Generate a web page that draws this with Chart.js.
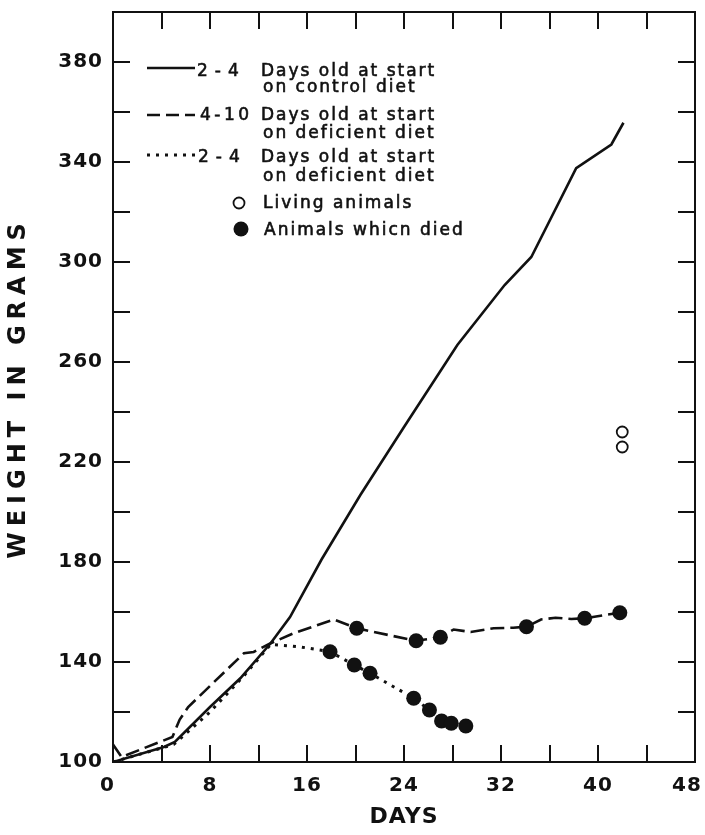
<!DOCTYPE html>
<html>
<head>
<meta charset="utf-8">
<script src="https://cdn.jsdelivr.net/npm/chart.js@4.4.1/dist/chart.umd.min.js"></script>
<style>
  html, body { margin: 0; padding: 0; background: #fff; }
</style>
</head>
<body>
<canvas id="weightChart" width="705" height="835"></canvas>
<script>
// Valores (dias / gramos)
const controlDays = [0, 4.2, 5.1, 8, 10.5, 13, 14.6, 17.2, 20.4, 24, 28.4, 32.3, 34.5, 38.2, 41.1, 42.1];
const controlWeight = [100, 106, 108, 122, 133.5, 147.5, 158, 181, 206.8, 234, 266.8, 290.8, 302, 337.5, 347, 355.7];

const olderDays = [0, 0.7, 4.9, 5.5, 6.2, 10.8, 11.6, 13, 14.9, 18.2, 20.1, 21.5, 25, 27, 28.1, 29.5, 31.4, 33, 34.1, 35.3, 36.5, 37.8, 38.9, 41.8];
const olderWeight = [107, 102, 110, 117, 122, 143.5, 144, 147.5, 151.5, 157, 153.5, 152, 148.5, 149.9, 153, 152, 153.5, 153.7, 154.1, 157, 157.7, 157.2, 157.5, 159.7];

const youngDays = [0, 5, 8, 10.8, 13, 15.5, 17.9, 19.9, 21.2, 24.8, 26.1, 27.1, 27.9, 29.1];
const youngWeight = [100, 107, 120, 134.5, 147, 146, 144.1, 138.8, 135.5, 125.5, 120.8, 116.4, 115.5, 114.4];

// animales que murieron
const olderDiedDays = [20.1, 25, 27, 34.1, 38.9, 41.8];
const olderDiedWeight = [153.5, 148.5, 149.9, 154.1, 157.5, 159.7];
const youngDiedDays = [17.9, 19.9, 21.2, 24.8, 26.1, 27.1, 27.9, 29.1];
const youngDiedWeight = [144.1, 138.8, 135.5, 125.5, 120.8, 116.4, 115.5, 114.4];

// animales vivos
const livingDays = [42.0, 42.0];
const livingWeight = [232, 226];

const xMin = 0, xMax = 48, xStep = 4, xLabelEvery = 8;
const yMin = 100, yMax = 400, yStep = 20, yLabelEvery = 40;

const legendRows = [
  { key: '2-4', spacing: 7, lines: ['Days old at start', 'on control diet'] },
  { key: '4-10', spacing: 3.5, lines: ['Days old at start', 'on deficient diet'] },
  { key: '2-4', spacing: 7, lines: ['Days old at start', 'on deficient diet'] }
];
const markerLabels = ['Living animals', 'Animals whicn died'];

const INK = '#111';
const FONT = "'DejaVu Sans', sans-serif";

function toPoints(xs, ys) {
  return xs.map((x, i) => ({ x: x, y: ys[i] }));
}

// etiquetas del eje x: las de los extremos van un poco hacia adentro
function dayLabel(v) {
  if (v % xLabelEvery !== 0) return '';
  if (v === xMin) return v + '\u2002';
  if (v === xMax) return v + '\u2002\u2009';
  return String(v);
}

// Marcas hacia adentro, marco completo, leyenda y titulo del eje y
const framePlugin = {
  id: 'framePlugin',
  beforeDraw(chart) {
    chart.ctx.letterSpacing = '1px';
  },
  afterDraw(chart) {
    const { ctx, chartArea: a, scales: { x, y } } = chart;
    const tick = 17;
    ctx.save();
    ctx.strokeStyle = INK;
    ctx.lineWidth = 2;
    ctx.setLineDash([]);
    ctx.strokeRect(a.left, a.top, a.right - a.left, a.bottom - a.top);
    ctx.beginPath();
    y.ticks.forEach(t => {
      if (t.value <= yMin || t.value >= yMax) return;
      const p = Math.round(y.getPixelForValue(t.value));
      ctx.moveTo(a.left, p); ctx.lineTo(a.left + tick, p);
      ctx.moveTo(a.right, p); ctx.lineTo(a.right - tick, p);
    });
    x.ticks.forEach(t => {
      if (t.value <= xMin || t.value >= xMax) return;
      const p = Math.round(x.getPixelForValue(t.value));
      ctx.moveTo(p, a.bottom); ctx.lineTo(p, a.bottom - tick);
      ctx.moveTo(p, a.top); ctx.lineTo(p, a.top + tick);
    });
    ctx.stroke();

    // titulo vertical
    ctx.save();
    ctx.translate(19, 391);
    ctx.rotate(-Math.PI / 2);
    ctx.fillStyle = INK;
    ctx.font = 'bold 24px ' + FONT;
    ctx.letterSpacing = '6px';
    ctx.textAlign = 'center';
    ctx.textBaseline = 'middle';
    ctx.fillText('WEIGHT IN GRAMS', 3, 0);
    ctx.restore();

    // leyenda
    const sampleX0 = 147, sampleX1 = 195;
    const sampleY = [68, 115, 155];
    const keyX = [197, 200, 198];
    const baseY = [[76, 92], [120, 138], [162, 181]];
    const dashes = [[], [13, 6], [3, 6]];
    ctx.fillStyle = INK;
    legendRows.forEach((row, i) => {
      ctx.beginPath();
      ctx.lineWidth = i === 2 ? 3 : 2.5;
      ctx.setLineDash(dashes[i]);
      ctx.moveTo(sampleX0, sampleY[i]);
      ctx.lineTo(sampleX1, sampleY[i]);
      ctx.stroke();
      ctx.setLineDash([]);
      ctx.lineWidth = 0.6;
      ctx.font = '17px ' + FONT;
      ctx.textAlign = 'left';
      ctx.textBaseline = 'alphabetic';
      ctx.letterSpacing = row.spacing + 'px';
      ctx.fillText(row.key, keyX[i], baseY[i][0]);
      ctx.strokeText(row.key, keyX[i], baseY[i][0]);
      ctx.letterSpacing = '2px';
      ctx.fillText(row.lines[0], 261, baseY[i][0]);
      ctx.strokeText(row.lines[0], 261, baseY[i][0]);
      ctx.fillText(row.lines[1], 263, baseY[i][1]);
      ctx.strokeText(row.lines[1], 263, baseY[i][1]);
    });
    ctx.lineWidth = 1.8;
    ctx.beginPath();
    ctx.arc(239, 203, 5.5, 0, Math.PI * 2);
    ctx.stroke();
    ctx.beginPath();
    ctx.arc(241, 229, 7.5, 0, Math.PI * 2);
    ctx.fill();
    ctx.letterSpacing = '2px';
    ctx.lineWidth = 0.6;
    ctx.fillText(markerLabels[0], 263, 208);
    ctx.strokeText(markerLabels[0], 263, 208);
    ctx.fillText(markerLabels[1], 264, 235);
    ctx.strokeText(markerLabels[1], 264, 235);
    ctx.restore();
  }
};

const ctx = document.getElementById('weightChart').getContext('2d');
new Chart(ctx, {
  type: 'scatter',
  data: {
    datasets: [
      {
        label: markerLabels[1],
        data: toPoints(olderDiedDays, olderDiedWeight),
        pointRadius: 7.5,
        backgroundColor: INK,
        borderWidth: 0,
        order: 0
      },
      {
        label: markerLabels[1],
        data: toPoints(youngDiedDays, youngDiedWeight),
        pointRadius: 7.5,
        backgroundColor: INK,
        borderWidth: 0,
        order: 0
      },
      {
        label: markerLabels[0],
        data: toPoints(livingDays, livingWeight),
        pointRadius: 5.5,
        backgroundColor: '#fff',
        borderColor: INK,
        borderWidth: 1.8,
        order: 0
      },
      {
        label: '2-4 Days old at start on control diet',
        data: toPoints(controlDays, controlWeight),
        showLine: true,
        borderColor: INK,
        borderWidth: 2.6,
        pointRadius: 0,
        order: 1
      },
      {
        label: '4-10 Days old at start on deficient diet',
        data: toPoints(olderDays, olderWeight),
        showLine: true,
        borderColor: INK,
        borderWidth: 2.6,
        borderDash: [14, 6],
        pointRadius: 0,
        order: 1
      },
      {
        label: '2-4 Days old at start on deficient diet',
        data: toPoints(youngDays, youngWeight),
        showLine: true,
        borderColor: INK,
        borderWidth: 3,
        borderDash: [3, 6],
        pointRadius: 0,
        order: 1
      }
    ]
  },
  options: {
    responsive: false,
    animation: false,
    layout: { padding: { top: 12, right: 10, left: 0, bottom: 0 } },
    plugins: {
      legend: { display: false },
      tooltip: { enabled: false }
    },
    scales: {
      x: {
        type: 'linear',
        min: xMin,
        max: xMax,
        grid: { display: false, drawTicks: false },
        border: { display: false },
        ticks: {
          stepSize: xStep,
          autoSkip: false,
          maxRotation: 0,
          padding: 12,
          color: INK,
          font: { family: FONT, size: 20, weight: 'bold' },
          callback: dayLabel
        },
        title: {
          display: true,
          text: 'DAYS',
          color: INK,
          font: { family: FONT, size: 22, weight: 'bold' },
          padding: { top: 0, bottom: 5 }
        },
        afterFit: s => {
          s.height = 73;
          s.paddingLeft = 0;
          s.paddingRight = 0;
        }
      },
      y: {
        type: 'linear',
        min: yMin,
        max: yMax,
        grid: { display: false, drawTicks: false },
        border: { display: false },
        ticks: {
          stepSize: yStep,
          autoSkip: false,
          padding: 10,
          color: INK,
          font: { family: FONT, size: 20, weight: 'bold' },
          callback: v => ((v - yMin) % yLabelEvery === 0 ? v : '')
        },
        afterFit: s => {
          s.width = 113;
          s.paddingTop = 0;
          s.paddingBottom = 0;
        }
      }
    }
  },
  plugins: [framePlugin]
});
</script>
</body>
</html>
